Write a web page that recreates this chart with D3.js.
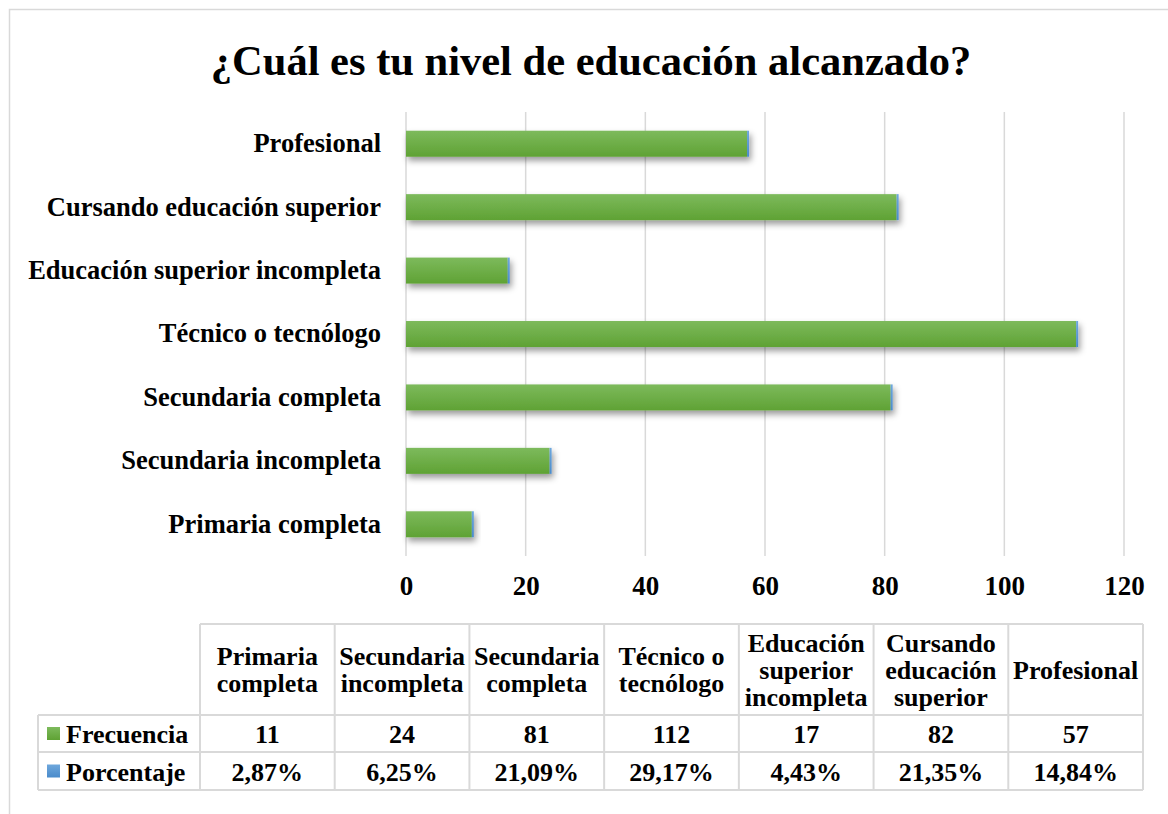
<!DOCTYPE html>
<html>
<head>
<meta charset="utf-8">
<script src="https://cdn.jsdelivr.net/npm/d3@7"></script>
<style>
  body { margin: 0; background: #fff; }
  svg text { font-family: "Liberation Serif", "Times New Roman", serif; font-weight: bold; fill: #000; }
</style>
</head>
<body>
<div id="chart"></div>
<script>
// data
const categories = ["Primaria completa", "Secundaria incompleta", "Secundaria completa", "Técnico o tecnólogo",
                    "Educación superior incompleta", "Cursando educación superior", "Profesional"];
const headerLines = [["Primaria", "completa"], ["Secundaria", "incompleta"], ["Secundaria", "completa"], ["Técnico o", "tecnólogo"],
                     ["Educación", "superior", "incompleta"], ["Cursando", "educación", "superior"], ["Profesional"]];
const frecuencia = [11, 24, 81, 112, 17, 82, 57];
const porcentaje = [2.87, 6.25, 21.09, 29.17, 4.43, 21.35, 14.84];
const xTicks = [0, 20, 40, 60, 80, 100, 120];
const seriesNames = ["Frecuencia", "Porcentaje"];

const W = 1168, H = 814;
const green = "#6aad3f", blue = "#5b9bd5";

const svg = d3.select("#chart").append("svg").attr("width", W).attr("height", H);
const defs = svg.append("defs");

let gg = defs.append("linearGradient").attr("id", "gGreen").attr("x1", 0).attr("y1", 0).attr("x2", 0).attr("y2", 1);
gg.append("stop").attr("offset", "0%").attr("stop-color", "#7dba5c");
gg.append("stop").attr("offset", "100%").attr("stop-color", "#5fa234");
let gb = defs.append("linearGradient").attr("id", "gBlue").attr("x1", 0).attr("y1", 0).attr("x2", 0).attr("y2", 1);
gb.append("stop").attr("offset", "0%").attr("stop-color", "#6ea7dc");
gb.append("stop").attr("offset", "100%").attr("stop-color", "#4a8bcb");

defs.append("filter").attr("id", "shadow").attr("x", "-5%").attr("y", "-30%").attr("width", "115%").attr("height", "180%")
  .append("feDropShadow").attr("dx", 2).attr("dy", 4).attr("stdDeviation", 3)
  .attr("flood-color", "#000").attr("flood-opacity", 0.4);

// chart border (runs off right/bottom)
svg.append("rect").attr("x", 9.5).attr("y", 9.5).attr("width", W).attr("height", H)
  .attr("fill", "none").attr("stroke", "#d9d9d9").attr("stroke-width", 1.5);

svg.append("text").attr("x", 591).attr("y", 75).attr("text-anchor", "middle")
  .style("font-size", "42.5px").text("¿Cuál es tu nivel de educación alcanzado?");

// scales
const x = d3.scaleLinear().domain([0, 120]).range([406, 1124]);
const y = d3.scaleBand().domain(categories.slice().reverse()).range([112, 556])
  .paddingInner(0.59).paddingOuter(0.295);

// gridlines
svg.append("g").selectAll("line").data(xTicks).join("line")
  .attr("x1", d => x(d)).attr("x2", d => x(d)).attr("y1", 112).attr("y2", 556)
  .attr("stroke", "#d9d9d9").attr("stroke-width", 1.5);

// x axis labels
const xAxis = svg.append("g").attr("transform", "translate(0,556)")
  .call(d3.axisBottom(x).tickValues(xTicks).tickSize(0).tickPadding(20));
xAxis.select(".domain").remove();
xAxis.selectAll("text").style("font-size", "27px")
  .style("font-family", "Liberation Serif, serif").style("font-weight", "bold");

// y axis labels
const yAxis = svg.append("g").attr("transform", "translate(406,0)")
  .call(d3.axisLeft(y).tickSize(0).tickPadding(25));
yAxis.select(".domain").remove();
yAxis.selectAll("text").style("font-size", "26.5px")
  .style("font-family", "Liberation Serif, serif").style("font-weight", "bold");

// bars: green frequency + blue percentage stacked (tiny in this scale)
const bars = svg.append("g");
categories.forEach((c, i) => {
  const g = bars.append("g").attr("filter", "url(#shadow)");
  g.append("rect").attr("x", x(0)).attr("y", y(c)).attr("width", x(frecuencia[i]) - x(0))
    .attr("height", y.bandwidth()).attr("fill", "url(#gGreen)");
  const pw = Math.max(x(frecuencia[i] + porcentaje[i] / 100) - x(frecuencia[i]), 2);
  g.append("rect").attr("x", x(frecuencia[i])).attr("y", y(c)).attr("width", pw)
    .attr("height", y.bandwidth()).attr("fill", "url(#gBlue)");
});

// data table
const tX0 = 200, tX1 = 1143, legX0 = 38;
const col = d3.scaleBand().domain(categories).range([tX0, tX1]);
const rowTop = 624, rowHead = 715, rowMid = 752, rowBot = 790;
const lineCol = "#d9d9d9";
const fs = "26px";
const table = svg.append("g");

// header text
categories.forEach((c, i) => {
  const lines = headerLines[i];
  const cx = col(c) + col.bandwidth() / 2;
  const lh = 27;
  const startY = (rowTop + rowHead) / 2 - (lines.length - 1) * lh / 2 + 9;
  lines.forEach((l, k) => {
    table.append("text").attr("x", cx).attr("y", startY + k * lh).attr("text-anchor", "middle")
      .style("font-size", fs).text(l);
  });
  table.append("text").attr("x", cx).attr("y", (rowHead + rowMid) / 2 + 9.5).attr("text-anchor", "middle")
    .style("font-size", fs).text(frecuencia[i]);
  table.append("text").attr("x", cx).attr("y", (rowMid + rowBot) / 2 + 9.5).attr("text-anchor", "middle")
    .style("font-size", fs).text(porcentaje[i].toFixed(2).replace(".", ",") + "%");
});

// legend cells
[[rowHead, rowMid, green, "url(#gGreen)"], [rowMid, rowBot, blue, "url(#gBlue)"]].forEach((r, k) => {
  const cy = (r[0] + r[1]) / 2;
  table.append("rect").attr("x", 47).attr("y", cy - 6.5).attr("width", 13).attr("height", 13).attr("fill", r[3]);
  table.append("text").attr("x", 66).attr("y", cy + 9.5).style("font-size", fs).text(seriesNames[k]);
});

// grid lines of the table
const hl = [[tX0, tX1, rowTop], [legX0, tX1, rowHead], [legX0, tX1, rowMid], [legX0, tX1, rowBot]];
hl.forEach(h => table.append("line").attr("x1", h[0]).attr("x2", h[1]).attr("y1", h[2]).attr("y2", h[2])
  .attr("stroke", lineCol).attr("stroke-width", 2));
const vx = categories.map(c => col(c)).concat([tX1]);
vx.forEach(v => table.append("line").attr("x1", v).attr("x2", v).attr("y1", rowTop).attr("y2", rowBot)
  .attr("stroke", lineCol).attr("stroke-width", 2));
table.append("line").attr("x1", legX0).attr("x2", legX0).attr("y1", rowHead).attr("y2", rowBot)
  .attr("stroke", lineCol).attr("stroke-width", 2);
</script>
</body>
</html>
